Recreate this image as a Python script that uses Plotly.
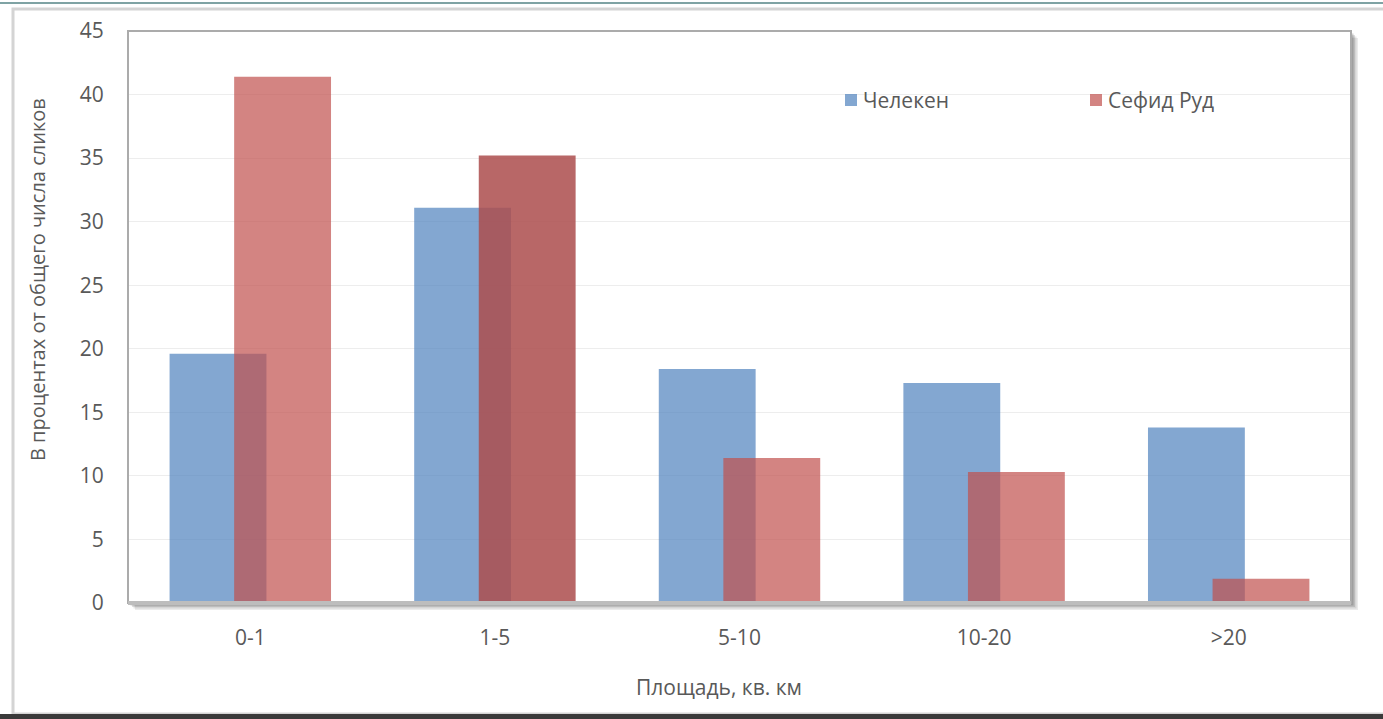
import plotly.graph_objects as go

categories = ["0-1", "1-5", "5-10", "10-20", ">20"]
chelek = [19.6, 31.1, 18.4, 17.3, 13.8]
sefid = [41.4, 35.2, 11.4, 10.3, 1.9]
y_ticks = [0, 5, 10, 15, 20, 25, 30, 35, 40, 45]
series_names = ["Челекен", "Сефид Руд"]

W, H = 1383, 719
L, R, T, B = 128, 1351, 31, 603

blue = "rgba(79,129,189,0.7)"
red = "rgba(192,80,77,0.7)"
red_dark = "rgba(172,78,78,0.86)"
red_colors = [red_dark if c == "1-5" else red for c in categories]

fig = go.Figure()
fig.add_trace(go.Bar(x=categories, y=chelek, name=series_names[0],
                     marker=dict(color=blue, line=dict(width=0)),
                     width=0.396, offset=-0.33, showlegend=False))
fig.add_trace(go.Bar(x=categories, y=sefid, name=series_names[1],
                     marker=dict(color=red_colors, line=dict(width=0)),
                     width=0.396, offset=-0.066, showlegend=False))

pw, ph = R - L, B - T
def px(x):
    return (x - L) / pw
def py(y):
    return (B - y) / ph

font_color = "#595959"
FONT = "Open Sans"
shapes = []
# outer frame
shapes.append(dict(type="rect", xref="paper", yref="paper", x0=px(13), x1=px(1400),
                   y0=py(714), y1=py(9), line=dict(color="#D4D4D4", width=3),
                   fillcolor="rgba(0,0,0,0)", layer="below"))
shapes.append(dict(type="rect", xref="paper", yref="paper", x0=px(0), x1=px(W),
                   y0=py(H + 2), y1=py(714), line=dict(width=0), fillcolor="#3A3A3A"))
shapes.append(dict(type="line", xref="paper", yref="paper", x0=px(0), x1=px(W),
                   y0=py(3), y1=py(3), line=dict(color="#7FA3A4", width=2)))
# plot area shadow
for i, op in enumerate([0.10, 0.12, 0.16, 0.22]):
    d = 7 - i * 1.5
    shapes.append(dict(type="rect", xref="paper", yref="paper",
                       x0=px(L + d), x1=px(R + d), y0=py(B + d), y1=py(T + d),
                       line=dict(width=0), fillcolor=f"rgba(60,60,60,{op})", layer="below"))
shapes.append(dict(type="rect", xref="paper", yref="paper", x0=0, x1=1, y0=0, y1=1,
                   line=dict(width=0), fillcolor="white", layer="below"))
# plot border
shapes.append(dict(type="rect", xref="paper", yref="paper", x0=0, x1=1, y0=0, y1=1,
                   line=dict(color="#ABABAB", width=2), fillcolor="rgba(0,0,0,0)", layer="above"))
shapes.append(dict(type="line", xref="paper", yref="paper", x0=0, x1=1, y0=0, y1=0,
                   line=dict(color="#BDBDBD", width=4), layer="above"))

# manual legend
legend_x = [845, 1090]
legend_colors = [blue, red]
for lx, col in zip(legend_x, legend_colors):
    shapes.append(dict(type="rect", xref="paper", yref="paper",
                       x0=px(lx), x1=px(lx + 12), y0=py(106), y1=py(94),
                       line=dict(width=0), fillcolor=col, layer="above"))

annotations = [
    dict(text="В процентах от общего числа сликов", xref="paper", yref="paper",
         x=px(37), y=py(280), xanchor="center", yanchor="middle",
         textangle=-90, showarrow=False,
         font=dict(size=20, color=font_color, family=FONT)),
    dict(text="Площадь, кв. км", xref="paper", yref="paper",
         x=px(719), y=py(687), xanchor="center", yanchor="middle", showarrow=False,
         font=dict(size=21, color=font_color, family=FONT)),
]
for lx, name in zip(legend_x, series_names):
    annotations.append(dict(text=name, xref="paper", yref="paper",
                            x=px(lx + 16), y=py(100), xanchor="left", yanchor="middle",
                            showarrow=False, font=dict(size=21, color=font_color, family=FONT)))

fig.update_layout(
    width=W, height=H,
    margin=dict(l=L, r=W - R, t=T, b=H - B, autoexpand=False),
    paper_bgcolor="white", plot_bgcolor="rgba(0,0,0,0)",
    barmode="overlay", showlegend=False,
    font=dict(family=FONT, size=21, color=font_color),
    shapes=shapes, annotations=annotations,
    xaxis=dict(type="category", categoryorder="array", categoryarray=categories,
               showgrid=False, showline=False, zeroline=False,
               ticks="outside", ticklen=16, tickcolor="rgba(0,0,0,0)",
               tickfont=dict(size=21, color=font_color)),
    yaxis=dict(range=[0, 45], tickvals=y_ticks, showgrid=True, gridcolor="#EDEDED",
               gridwidth=1, zeroline=False, showline=False,
               ticks="outside", ticklen=19, tickcolor="rgba(0,0,0,0)",
               tickfont=dict(size=21, color=font_color)),
)

fig.write_html("out.html", config={"displayModeBar": False},
               post_script="document.body.style.margin='0';document.body.style.overflow='hidden';")
